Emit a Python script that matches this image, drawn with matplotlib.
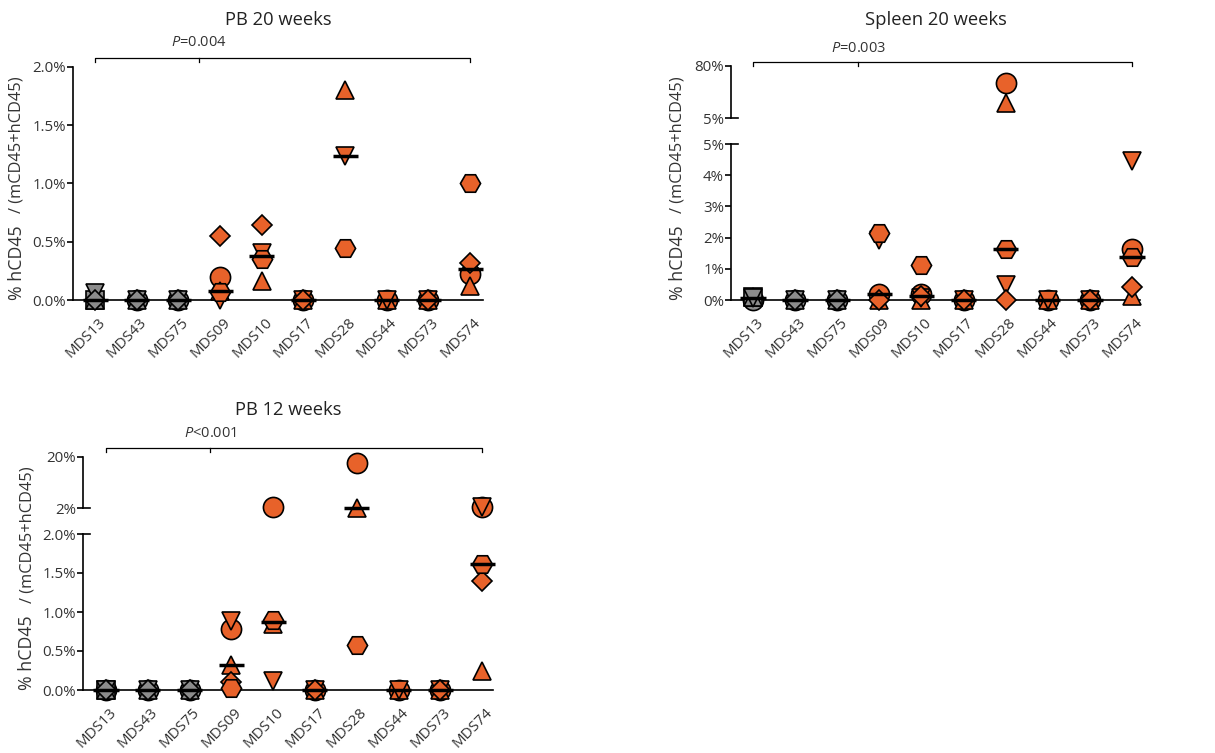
import matplotlib
matplotlib.use('Agg')
import matplotlib.pyplot as plt
import numpy as np
from matplotlib.transforms import blended_transform_factory, ScaledTranslation

plt.rcParams['font.family'] = ['Open Sans', 'DejaVu Sans']
plt.rcParams['mathtext.fontset'] = 'custom'
plt.rcParams['mathtext.it'] = 'Open Sans:italic'
plt.rcParams['mathtext.rm'] = 'Open Sans'

# patients: first three are controls (grey), the rest orange
patients = ['MDS13', 'MDS43', 'MDS75', 'MDS09', 'MDS10',
            'MDS17', 'MDS28', 'MDS44', 'MDS73', 'MDS74']
n_ctrl = 3

# PB 20 weeks (% hCD45), one list per mouse symbol, None = no mouse
pb20_circle = [None, 0, 0, 0.20, None, 0, None, 0, 0, 0.22]
pb20_square = [0, None, None, None, None, None, None, None, None, None]
pb20_up = [0, 0, 0, 0.08, 0.16, 0, 1.80, 0, 0, 0.12]
pb20_down = [0.06, 0, 0, 0.0, 0.40, 0, 1.24, 0, 0, None]
pb20_diamond = [0, 0, 0, 0.55, 0.64, 0, None, None, 0, 0.32]
pb20_hexagon = [None, None, None, 0.07, 0.35, None, 0.45, None, None, 1.00]

# Spleen 20 weeks
sp20_circle = [0, 0, 0, 0.18, 0.20, 0, 55, 0, 0, 1.63]
sp20_square = [0.1, None, None, None, None, None, None, None, None, None]
sp20_up = [0.1, 0, 0, 0, 0, 0, 27, 0, 0, 0.14]
sp20_down = [0.05, 0, 0, 1.93, 0.05, 0, 0.48, 0, 0, 4.45]
sp20_diamond = [None, 0, 0, 0, 0.13, 0, 0, None, 0, 0.42]
sp20_hexagon = [None, None, None, 2.15, 1.12, None, 1.63, None, None, 1.37]

# PB 12 weeks
pb12_circle = [0, 0, 0, 0.78, 2.4, 0, 17.9, 0, 0, 2.35]
pb12_square = [0, None, None, None, None, None, None, None, None, None]
pb12_up = [0, 0, 0, 0.32, 0.85, 0, 2.05, 0, 0, 0.24]
pb12_down = [0, 0, 0, 0.88, 0.12, 0, None, 0, 0, 2.4]
pb12_diamond = [0, 0, 0, 0.10, None, 0, None, None, 0, 1.40]
pb12_hexagon = [None, None, None, 0.02, 0.90, None, 0.58, None, None, 1.62]

ORANGE = '#E8622A'
GREY = '#8C8C8C'
TXT = '#333333'
W, H = 1215, 753

# marker -> markersize
msizes = {'o': 14.5, 's': 13.5, '^': 13.5, 'v': 13.5, 'D': 10.5, 'H': 14.5}

fig = plt.figure(figsize=(W / 100, H / 100), dpi=100)


def fx(px):
    return px / W


def fy(py):
    return 1 - py / H


def make_ax(left, right, top, bottom):
    return fig.add_axes([fx(left), fy(bottom), (right - left) / W, (bottom - top) / H])


def draw_panel(series, ax_low, ax_up, low_max, up_range, xlim, yticks, ylabels,
               title, ptext, title_y, p_y, br_y, ylab_x, ylab_bottom):
    for ax in [a for a in (ax_low, ax_up) if a is not None]:
        ax.set_xlim(*xlim)
        ax.spines['top'].set_visible(False)
        ax.spines['right'].set_visible(False)
        ax.spines['left'].set_linewidth(1.2)
        ax.tick_params(axis='y', length=4, width=1.2, labelsize=10.8, labelcolor=TXT, pad=1)
    ax_low.set_ylim(0, low_max)
    ax_low.set_yticks(yticks)
    ax_low.set_yticklabels(ylabels)
    ax_low.spines['bottom'].set_linewidth(1.2)
    ax_low.set_xticks(range(len(patients)))
    ax_low.set_xticklabels(patients, rotation=45, ha='right', va='top',
                           rotation_mode='anchor', fontsize=10.8, color=TXT)
    ax_low.tick_params(axis='x', length=0, pad=11)
    for lab in ax_low.get_xticklabels():
        lab.set_transform(lab.get_transform() + ScaledTranslation(2 / 72, 0, fig.dpi_scale_trans))

    top_ax = ax_low
    if ax_up is not None:
        lo, hi = up_range
        ax_up.set_ylim(lo, hi)
        ax_up.set_yticks([lo, hi])
        ax_up.set_yticklabels([f'{lo:g}%', f'{hi:g}%'])
        ax_up.spines['bottom'].set_visible(False)
        ax_up.set_xticks([])
        # break marks
        ax_up.plot([0, 0.018], [lo, lo], color='black', lw=1.2,
                   transform=ax_up.get_yaxis_transform(), clip_on=False)
        ax_low.plot([0, 0.018], [low_max, low_max], color='black', lw=1.2,
                    transform=ax_low.get_yaxis_transform(), clip_on=False)
        top_ax = ax_up

    # data points
    for marker, vals in series:
        for i, v in enumerate(vals):
            if v is None:
                continue
            col = GREY if i < n_ctrl else ORANGE
            ax = ax_up if (ax_up is not None and v > low_max) else ax_low
            ax.plot(i, v, ls='none', marker=marker, ms=msizes[marker], mfc=col,
                    mec='black', mew=1.2, clip_on=False, zorder=3)

    # medians
    for i in range(len(patients)):
        vals = [s[1][i] for s in series if s[1][i] is not None]
        m = float(np.median(vals))
        ax = ax_up if (ax_up is not None and m > low_max) else ax_low
        ax.plot([i - 0.3, i + 0.3], [m, m], color='black', lw=2.5,
                solid_capstyle='butt', clip_on=False, zorder=4)

    # bracket + p-value
    tr = blended_transform_factory(top_ax.transData, fig.transFigure)
    yb = fy(br_y)
    d = 4 / H
    n = len(patients) - 1
    top_ax.plot([0, 0, n, n], [yb - d, yb, yb, yb - d], color='black', lw=0.9,
                transform=tr, clip_on=False)
    top_ax.plot([2.5, 2.5], [yb, yb - d], color='black', lw=0.9,
                transform=tr, clip_on=False)
    top_ax.text(2.5, fy(p_y), ptext, transform=tr, ha='center', va='center',
                fontsize=10.5, color=TXT)

    # title
    bb = ax_low.get_position()
    fig.text((bb.x0 + bb.x1) / 2, fy(title_y), title, ha='center', va='center',
             fontsize=13.2, color='#222222')

    # y label in two sizes
    fig.text(fx(ylab_x), fy(ylab_bottom), '% hCD45', rotation=90,
             ha='center', va='bottom', fontsize=12.8, color=TXT)
    fig.text(fx(ylab_x), fy(ylab_bottom - 87), '/ (mCD45+hCD45)', rotation=90,
             ha='center', va='bottom', fontsize=11.8, color=TXT)


# PB 20 weeks
ax1 = make_ax(73, 483, 67, 300)
draw_panel([('o', pb20_circle), ('s', pb20_square), ('^', pb20_up), ('v', pb20_down),
            ('D', pb20_diamond), ('H', pb20_hexagon)],
           ax1, None, 2.0, None, (-0.53, 9.31),
           [0, 0.5, 1.0, 1.5, 2.0], ['0.0%', '0.5%', '1.0%', '1.5%', '2.0%'],
           'PB 20 weeks', r'$\mathit{P}$=0.004', 20, 43, 58, 17, 300)

# Spleen 20 weeks
ax2 = make_ax(731, 1140, 144, 300)
ax2u = make_ax(731, 1140, 66, 118)
draw_panel([('o', sp20_circle), ('s', sp20_square), ('^', sp20_up), ('v', sp20_down),
            ('D', sp20_diamond), ('H', sp20_hexagon)],
           ax2, ax2u, 5, (5, 80), (-0.52, 9.19),
           [0, 1, 2, 3, 4, 5], ['0%', '1%', '2%', '3%', '4%', '5%'],
           'Spleen 20 weeks', r'$\mathit{P}$=0.003', 20, 48, 62, 678, 300)

# PB 12 weeks
ax3 = make_ax(83, 493, 534, 690)
ax3u = make_ax(83, 493, 457, 508)
draw_panel([('o', pb12_circle), ('s', pb12_square), ('^', pb12_up), ('v', pb12_down),
            ('D', pb12_diamond), ('H', pb12_hexagon)],
           ax3, ax3u, 2.0, (2, 20), (-0.55, 9.26),
           [0, 0.5, 1.0, 1.5, 2.0], ['0.0%', '0.5%', '1.0%', '1.5%', '2.0%'],
           'PB 12 weeks', r'$\mathit{P}$<0.001', 410, 433, 448, 27, 690)

fig.savefig('out.png', dpi=100)
